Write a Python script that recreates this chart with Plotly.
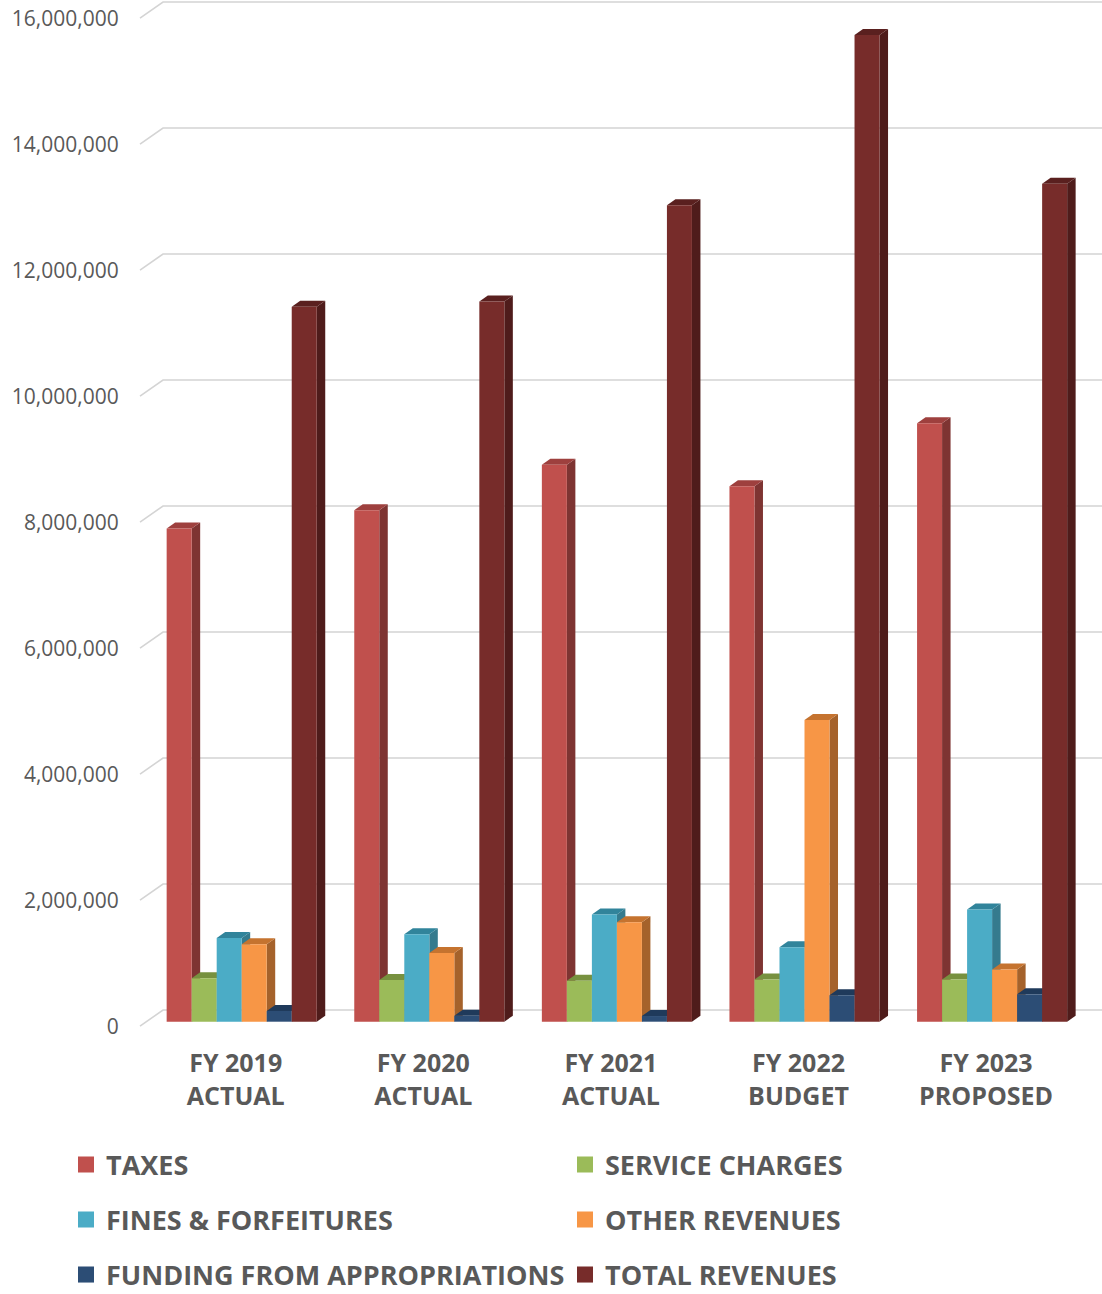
import plotly.graph_objects as go

# ---- data -------------------------------------------------------------
categories = ["FY 2019<br>ACTUAL", "FY 2020<br>ACTUAL", "FY 2021<br>ACTUAL",
              "FY 2022<br>BUDGET", "FY 2023<br>PROPOSED"]
series_names = ["TAXES", "SERVICE CHARGES", "FINES & FORFEITURES",
                "OTHER REVENUES", "FUNDING FROM APPROPRIATIONS", "TOTAL REVENUES"]
taxes = [7_830_000, 8_120_000, 8_840_000, 8_500_000, 9_500_000]
service_charges = [690_000, 660_000, 650_000, 670_000, 670_000]
fines_forfeitures = [1_330_000, 1_390_000, 1_700_000, 1_180_000, 1_780_000]
other_revenues = [1_230_000, 1_090_000, 1_580_000, 4_790_000, 830_000]
funding_appropriations = [170_000, 95_000, 90_000, 420_000, 435_000]
total_revenues = [11_350_000, 11_430_000, 12_960_000, 15_660_000, 13_300_000]
y_ticks = list(range(0, 16_000_001, 2_000_000))

series_values = [taxes, service_charges, fines_forfeitures,
                 other_revenues, funding_appropriations, total_revenues]

# ---- styling ----------------------------------------------------------
# (front, top, side) shades of every series
shades = [
    ("#C0504D", "#9E403E", "#7E3432"),
    ("#9BBB59", "#77913F", "#6B8538"),
    ("#4BACC6", "#31849B", "#357B8E"),
    ("#F79646", "#C5732F", "#A5622B"),
    ("#2C4D75", "#1F3A5B", "#1E3652"),
    ("#772C2A", "#5A201F", "#4F1C1B"),
]
TEXT = "#595959"
GRID = "#D4D4D4"
FONT = "Open Sans"

# layout geometry (pixels)
W, H = 1102, 1294
M_L, M_B = 130, 254
PX_PER_CAT = 187.6          # horizontal pixels between category groups
PX_PER_UNIT = 63 / 1e6      # vertical pixels per dollar
GROUP_CENTER_PX = 241.7     # pixel x of the first group's centre
ZERO_PX = 1021.7            # pixel y of the bar floor

def px_to_x(px):
    return (px - GROUP_CENTER_PX) / PX_PER_CAT

def dpx_to_val(d):
    return d / PX_PER_UNIT

x_range = [px_to_x(M_L), px_to_x(W)]
y_range = [dpx_to_val(ZERO_PX - (H - M_B)), dpx_to_val(ZERO_PX)]

# depth of the bars and of the walls
BAR_DX = 8.5 / PX_PER_CAT
BAR_DY = dpx_to_val(6)
FRONT_SHIFT = dpx_to_val(4.5)     # front edge of floor sits below bar plane
BACK_SHIFT = dpx_to_val(11.7)     # back wall sits above bar plane
X_FRONT_LEFT = px_to_x(140)
X_BACK_LEFT = px_to_x(163)

n_series = len(series_values)
group_width = 0.8
bar_w = group_width / n_series

shapes = []
# back-wall gridlines with the slanted segment on the side wall
for v in y_ticks:
    yb = v + BACK_SHIFT
    yf = v - FRONT_SHIFT
    shapes.append(dict(
        type="path", xref="x", yref="y", layer="below",
        path=f"M {X_FRONT_LEFT},{yf} L {X_BACK_LEFT},{yb} L {x_range[1]},{yb}",
        line=dict(color=GRID, width=1.6),
    ))

side_faces, top_faces = [], []
for k, vals in enumerate(series_values):
    _, top_c, side_c = shades[k]
    for i, v in enumerate(vals):
        x0 = i - group_width / 2 + k * bar_w
        x1 = x0 + bar_w
        side_faces.append(dict(
            type="path", xref="x", yref="y", layer="below",
            path=(f"M {x1},0 L {x1 + BAR_DX},{BAR_DY} L {x1 + BAR_DX},{v + BAR_DY} "
                  f"L {x1},{v} Z"),
            fillcolor=side_c, line=dict(width=0),
        ))
        top_faces.append(dict(
            type="path", xref="x", yref="y", layer="below",
            path=(f"M {x0},{v} L {x1},{v} L {x1 + BAR_DX},{v + BAR_DY} "
                  f"L {x0 + BAR_DX},{v + BAR_DY} Z"),
            fillcolor=top_c, line=dict(width=0),
        ))
shapes += side_faces + top_faces

fig = go.Figure()
x_idx = list(range(len(categories)))
for k, (name, vals) in enumerate(zip(series_names, series_values)):
    fig.add_trace(go.Bar(
        x=x_idx, y=vals, name=name,
        width=bar_w, offset=-group_width / 2 + k * bar_w,
        marker=dict(color=shades[k][0], line=dict(width=0)),
        showlegend=False, hoverinfo="x+y+name",
    ))

# legend: one entry per legend box, laid out in two columns and three rows
legend_ids = ["legend"] + [f"legend{n}" for n in range(2, n_series + 1)]
for k, name in enumerate(series_names):
    fig.add_trace(go.Scatter(
        x=[None], y=[None], mode="markers", name=name,
        marker=dict(symbol="square", size=17, color=shades[k][0]),
        legend=legend_ids[k], showlegend=True,
    ))

# invisible trace carrying the front-edge value axis
fig.add_trace(go.Scatter(x=[None], y=[None], yaxis="y2", showlegend=False,
                         hoverinfo="skip"))

legend_rows_px = [1165, 1220, 1275]
legend_cols_px = [66, 565]
legend_layout = {}
for k, lid in enumerate(legend_ids):
    legend_layout[lid] = dict(
        orientation="h", xref="container", yref="container",
        x=legend_cols_px[k % 2] / W, xanchor="left",
        y=1 - legend_rows_px[k // 2] / H, yanchor="middle",
        itemsizing="trace", bgcolor="rgba(0,0,0,0)",
        font=dict(family=FONT, size=27, color=TEXT, weight="bold"),
    )

fig.update_layout(
    width=W, height=H,
    margin=dict(l=M_L, r=0, t=0, b=M_B, autoexpand=False),
    paper_bgcolor="white", plot_bgcolor="white",
    barmode="overlay",
    shapes=shapes,
    xaxis=dict(
        range=x_range, tickmode="array",
        tickvals=[i - 6 / PX_PER_CAT for i in x_idx], ticktext=categories,
        showgrid=False, zeroline=False, showline=False,
        ticks="outside", ticklen=1, tickcolor="rgba(0,0,0,0)",
        tickfont=dict(family=FONT, size=25, color=TEXT, weight="bold"),
    ),
    yaxis=dict(
        range=y_range, showgrid=False, zeroline=False, showline=False,
        showticklabels=False, ticks="",
    ),
    yaxis2=dict(
        range=[y_range[0] + FRONT_SHIFT, y_range[1] + FRONT_SHIFT],
        overlaying="y", side="left", anchor="x",
        tickmode="array", tickvals=y_ticks, tickformat=",",
        showgrid=False, zeroline=False, showline=False,
        ticks="outside", ticklen=6, tickcolor="rgba(0,0,0,0)",
        tickfont=dict(family=FONT, size=21, color=TEXT),
    ),
    **legend_layout,
)

fig.write_html("out.html")
